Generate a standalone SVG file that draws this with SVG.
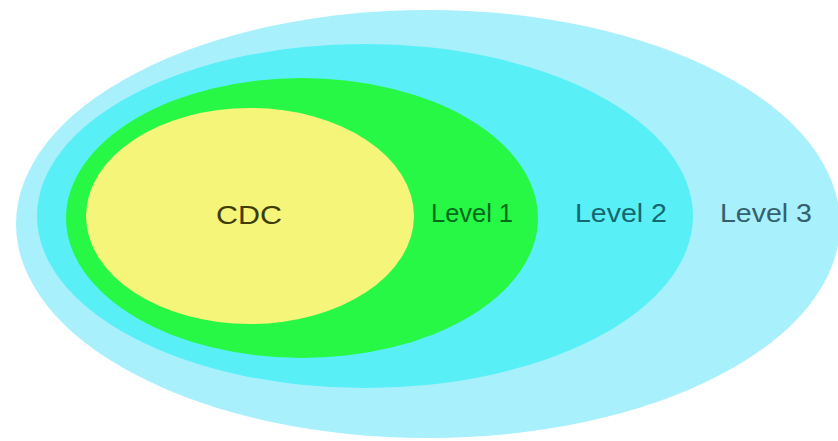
<svg xmlns="http://www.w3.org/2000/svg" width="838" height="441" viewBox="0 0 838 441">
<style>
.lbl{font-family:"Liberation Sans",Arial,sans-serif;font-size:25px;text-anchor:middle}
</style>
<rect width="838" height="441" fill="#ffffff"/>
<g id="level3"><ellipse cx="428" cy="224" rx="412" ry="214" fill="#a8f0fc"/></g>
<g id="level2"><ellipse cx="365" cy="216" rx="328" ry="172" fill="#58f0f6"/></g>
<g id="level1"><ellipse cx="302" cy="218" rx="236" ry="140" fill="#26f845"/></g>
<g id="cdc"><ellipse cx="250" cy="216" rx="164" ry="108" fill="#f5f57a"/>
<text class="lbl" x="249" y="224" fill="#3e3c00" textLength="66" lengthAdjust="spacingAndGlyphs">CDC</text></g>
<g id="labels">
<text class="lbl" x="472" y="222" fill="#006a1a" textLength="82" lengthAdjust="spacingAndGlyphs">Level 1</text>
<text class="lbl" x="621" y="222" fill="#15686f" textLength="92" lengthAdjust="spacingAndGlyphs">Level 2</text>
<text class="lbl" x="766" y="222" fill="#34606e" textLength="92" lengthAdjust="spacingAndGlyphs">Level 3</text>
</g>
<g id="connectors"/>
</svg>
